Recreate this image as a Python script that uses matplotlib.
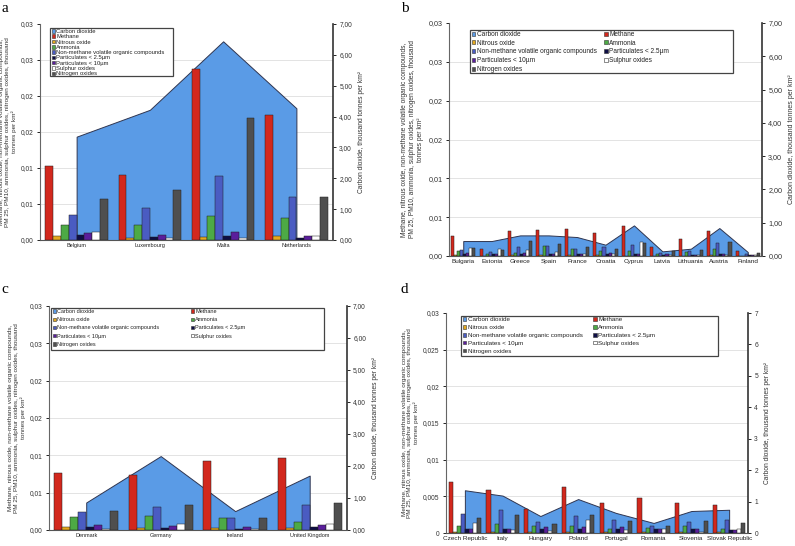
import numpy as np
import matplotlib
matplotlib.use("Agg")
import matplotlib.pyplot as plt
from matplotlib.patches import Patch, Rectangle
from matplotlib.ticker import FixedLocator

plt.rcParams['font.family'] = ['Liberation Sans', 'DejaVu Sans']

# series shared by all four panels
series_names = ["Carbon dioxide", "Methane", "Nitrous oxide", "Ammonia",
                "Non-methane volatile organic compounds", "Particulates < 2.5µm",
                "Particulates < 10µm", "Sulphur oxides", "Nitrogen oxides"]
series_colors = ["#5A9BE6", "#D2281D", "#E4A91F", "#4DAA45", "#4A5CC2",
                 "#0E0E45", "#5A1E9C", "#FFFFFF", "#4F4F4F"]

# panel a
a_countries = ["Belgium", "Luxembourg", "Malta", "Netherlands"]
a_co2 = [3.35, 4.22, 6.44, 4.27]
a_ch4 = [0.0103, 0.0091, 0.0237, 0.0173]
a_n2o = [0.00056, 0.0003, 0.00037, 0.0006]
a_nh3 = [0.0021, 0.0021, 0.0034, 0.0031]
a_nmvoc = [0.0035, 0.0045, 0.0089, 0.0060]
a_pm25 = [0.0007, 0.00042, 0.0006, 0.00028]
a_pm10 = [0.00097, 0.00065, 0.00107, 0.00051]
a_sox = [0.00116, 0.00023, 0.0003, 0.00056]
a_nox = [0.0057, 0.0070, 0.0169, 0.0060]

# panel b
b_countries = ["Bulgaria", "Estonia", "Greece", "Spain", "France", "Croatia",
               "Cyprus", "Latvia", "Lithuania", "Austria", "Finland"]
b_co2 = [0.45, 0.45, 0.62, 0.62, 0.57, 0.34, 0.92, 0.14, 0.22, 0.84, 0.12]
b_ch4 = [0.00254, 0.00095, 0.00318, 0.0033, 0.0035, 0.003, 0.0039, 0.0012, 0.00215, 0.0032, 0.0006]
b_n2o = [0.0001, 0.00005, 0.0001, 0.0001, 0.0001, 0.0001, 0.00005, 0.00005, 0.00005, 0.0001, 0.00003]
b_nh3 = [0.00065, 0.0003, 0.00045, 0.00125, 0.00095, 0.00065, 0.00065, 0.0003, 0.0005, 0.00095, 0.00005]
b_nmvoc = [0.0008, 0.0005, 0.00115, 0.00125, 0.00095, 0.00115, 0.0014, 0.0004, 0.0007, 0.0017, 0.0002]
b_pm25 = [0.0003, 0.0002, 0.0002, 0.0002, 0.0002, 0.0002, 0.0002, 0.00015, 0.00015, 0.0002, 0.0001]
b_pm10 = [0.0004, 0.0003, 0.00045, 0.0003, 0.0003, 0.0004, 0.0002, 0.0003, 0.00015, 0.0003, 0.0001]
b_sox = [0.001, 0.00085, 0.0008, 0.0005, 0.0002, 0.0002, 0.0018, 0.0001, 0.0001, 0.0001, 0.00015]
b_nox = [0.001, 0.0008, 0.0019, 0.0016, 0.00115, 0.00095, 0.0017, 0.00065, 0.0008, 0.0018, 0.0004]

# panel c
c_countries = ["Denmark", "Germany", "Ireland", "United Kingdom"]
c_co2 = [0.86, 2.31, 0.59, 1.70]
c_ch4 = [0.00767, 0.00736, 0.00923, 0.00967]
c_n2o = [0.0004, 0.0003, 0.0003, 0.00022]
c_nh3 = [0.00178, 0.00187, 0.00165, 0.0011]
c_nmvoc = [0.00236, 0.00303, 0.00165, 0.00334]
c_pm25 = [0.00045, 0.00027, 0.00018, 0.00045]
c_pm10 = [0.00067, 0.00054, 0.00036, 0.00067]
c_sox = [0.00018, 0.00085, 0.00013, 0.00076]
c_nox = [0.00259, 0.0033, 0.0016, 0.00361]

# panel d
d_countries = ["Czech Republic", "Italy", "Hungary", "Poland", "Portugal",
               "Romania", "Slovenia", "Slovak Republic"]
d_co2 = [1.36, 1.19, 0.54, 1.08, 0.64, 0.32, 0.70, 0.74]
d_ch4 = [0.0069, 0.0059, 0.0033, 0.0063, 0.0041, 0.0048, 0.0041, 0.0038]
d_n2o = [0.0002, 0.0001, 0.0001, 0.0002, 0.0001, 0.0001, 0.0001, 0.0001]
d_nh3 = [0.0009, 0.0012, 0.0009, 0.001, 0.0006, 0.0007, 0.0009, 0.0006]
d_nmvoc = [0.0026, 0.0031, 0.0015, 0.0023, 0.0018, 0.001, 0.0015, 0.0018]
d_pm25 = [0.0005, 0.0006, 0.0005, 0.0005, 0.0006, 0.0005, 0.0006, 0.0004]
d_pm10 = [0.0006, 0.0006, 0.0008, 0.0008, 0.0008, 0.0006, 0.0006, 0.0004]
d_sox = [0.0014, 0.0004, 0.0003, 0.0018, 0.0004, 0.0005, 0.0002, 0.0006]
d_nox = [0.002, 0.0024, 0.0012, 0.0025, 0.0017, 0.001, 0.0017, 0.0013]

# axis tick labels
left_ticks = [0, 0.005, 0.01, 0.015, 0.02, 0.025, 0.03]
left_labels_2dp = ["0,00", "0,01", "0,01", "0,02", "0,02", "0,03", "0,03"]
left_labels_d = ["0", "0,005", "0,01", "0,015", "0,02", "0,025", "0,03"]
right_ticks = [0, 1, 2, 3, 4, 5, 6, 7]
right_labels_2dp = ["0,00", "1,00", "2,00", "3,00", "4,00", "5,00", "6,00", "7,00"]
right_labels_d = ["0", "1", "2", "3", "4", "5", "6", "7"]

left_title = ("Methane, nitrous oxide, non-methane volatile organic compounds,\n"
              "PM 25, PM10, ammonia, sulphur oxides, nitrogen oxides, thousand\n"
              "tonnes per km²")
right_title = "Carbon dioxide, thousand tonnes per km²"

fig = plt.figure(figsize=(7.95, 5.46), dpi=100)


def draw_panel(rect, countries, co2, bars, lticks, rticks, tick_fs, x_fs, lab_fs,
               box, leg_fs, ncol, col_sp, leg_sp):
    ax = fig.add_axes(rect)
    ax2 = ax.twinx()
    ax.set_zorder(2)
    ax2.set_zorder(1)
    ax.patch.set_visible(False)

    x = np.arange(len(countries))
    w = 0.107

    # carbon dioxide as area on the right axis
    ax2.fill_between(x, co2, color=series_colors[0], edgecolor="#2F3550",
                     linewidth=0.7, zorder=2)
    ax2.set_ylim(0, 7)
    ax2.set_yticks(right_ticks, rticks, fontsize=tick_fs, color="#333333")
    # grid lines follow the left scale, drawn under the area
    ax2.yaxis.set_minor_locator(FixedLocator(np.linspace(0, 7, 7)))
    ax2.grid(True, which="minor", axis="y", color="#E3E3E3", linewidth=0.7, zorder=0)
    ax2.tick_params(axis="y", which="minor", length=0)
    ax2.tick_params(axis="y", which="major", length=2.5, width=0.6, pad=2)
    ax2.set_ylabel(right_title, fontsize=lab_fs, color="#333333", labelpad=4)

    for j, vals in enumerate(bars):
        ax.bar(x + (j - 3.5) * w, vals, w, color=series_colors[j + 1],
               edgecolor="#1E1E1E", linewidth=0.35, zorder=3)
    ax.set_ylim(0, 0.03)
    ax.set_xlim(-0.5, len(countries) - 0.5)
    ax.set_yticks(left_ticks, lticks, fontsize=tick_fs, color="#333333")
    ax.tick_params(axis="y", length=2.5, width=0.6, pad=2)
    ax.set_xticks(x, countries, fontsize=x_fs, color="#222222")
    ax.tick_params(axis="x", length=0, pad=2)
    ax.set_ylabel(left_title, fontsize=lab_fs * 0.95, color="#333333", labelpad=3)

    for a_ in (ax, ax2):
        for s in a_.spines.values():
            s.set_visible(False)
    ax.spines["left"].set_visible(True)
    ax.spines["left"].set_color("#666666")
    ax.spines["bottom"].set_visible(True)
    ax.spines["bottom"].set_color("#555555")
    ax2.spines["right"].set_visible(True)
    ax2.spines["right"].set_color("#333333")
    ax2.spines["right"].set_linewidth(1.2)

    # legend box
    x0, y0, x1, y1 = box
    ax.add_patch(Rectangle((x0, y0), x1 - x0, y1 - y0, transform=ax.transAxes,
                           facecolor="white", edgecolor="#444444", linewidth=0.9,
                           zorder=4))
    handles = [Patch(facecolor=c, edgecolor="#333333", linewidth=0.4, label=n)
               for n, c in zip(series_names, series_colors)]
    if ncol == 2:
        order = [0, 2, 4, 6, 8, 1, 3, 5, 7]
        handles = [handles[i] for i in order]
    leg = ax.legend(handles=handles, loc="upper left", ncol=ncol,
                    bbox_to_anchor=(x0 + 0.006, y1 - 0.004), frameon=False,
                    fontsize=leg_fs, handlelength=0.55, handleheight=0.55,
                    handletextpad=0.25, borderpad=0, borderaxespad=0,
                    columnspacing=col_sp, labelspacing=leg_sp)
    leg.set_zorder(5)
    for t in leg.get_texts():
        t.set_color("#222222")
    return ax, ax2


draw_panel([0.0503, 0.5604, 0.3686, 0.3956], a_countries, a_co2,
           [a_ch4, a_n2o, a_nh3, a_nmvoc, a_pm25, a_pm10, a_sox, a_nox],
           left_labels_2dp, right_labels_2dp, 4.8, 4.0, 4.8,
           (0.034, 0.759, 0.454, 0.981), 4.2, 1, 1.0, 0.05)

draw_panel([0.5648, 0.5311, 0.3937, 0.4267], b_countries, b_co2,
           [b_ch4, b_n2o, b_nh3, b_nmvoc, b_pm25, b_pm10, b_sox, b_nox],
           left_labels_2dp, right_labels_2dp, 5.2, 4.6, 5.0,
           (0.067, 0.785, 0.907, 0.970), 4.7, 2, 1.1, 0.27)

draw_panel([0.0616, 0.0293, 0.3748, 0.4103], c_countries, c_co2,
           [c_ch4, c_n2o, c_nh3, c_nmvoc, c_pm25, c_pm10, c_sox, c_nox],
           left_labels_2dp, right_labels_2dp, 4.8, 4.0, 4.8,
           (0.007, 0.804, 0.923, 0.991), 3.95, 2, 5.7, 0.6)

draw_panel([0.561, 0.0238, 0.3799, 0.4029], d_countries, d_co2,
           [d_ch4, d_n2o, d_nh3, d_nmvoc, d_pm25, d_pm10, d_sox, d_nox],
           left_labels_d, right_labels_d, 4.8, 4.6, 4.8,
           (0.050, 0.805, 0.900, 0.986), 4.5, 2, 1.7, 0.45)

for lab, xx, yy in [("a", 0.002, 0.997), ("b", 0.504, 0.997),
                    ("c", 0.002, 0.482), ("d", 0.504, 0.482)]:
    fig.text(xx, yy, lab, family="Liberation Serif", fontsize=11, va="top", ha="left")

fig.savefig("out.png", dpi=100)
